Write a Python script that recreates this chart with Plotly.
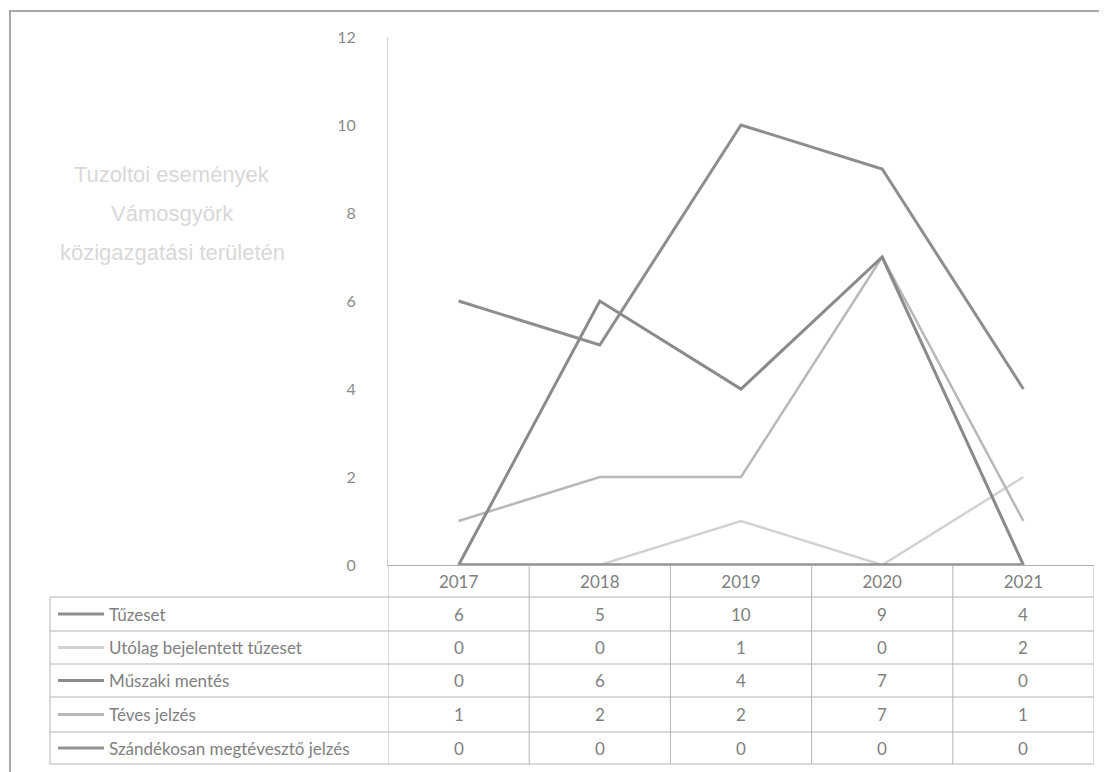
import plotly.graph_objects as go

years = ["2017", "2018", "2019", "2020", "2021"]
series_names = [
    "Tűzeset",
    "Utólag bejelentett tűzeset",
    "Műszaki mentés",
    "Téves jelzés",
    "Szándékosan megtévesztő jelzés",
]
tuzeset = [6, 5, 10, 9, 4]
utolag = [0, 0, 1, 0, 2]
muszaki = [0, 6, 4, 7, 0]
teves = [1, 2, 2, 7, 1]
szandekos = [0, 0, 0, 0, 0]
series_values = [tuzeset, utolag, muszaki, teves, szandekos]
y_ticks = [0, 2, 4, 6, 8, 10, 12]
title_lines = ["Tuzoltoi események", "Vámosgyörk", "közigazgatási területén"]

colors = ["#8e8e8e", "#d2d2d2", "#8a8a8a", "#b8b8b8", "#939393"]
widths = [3, 2.5, 3, 2.5, 3.5]

OFF = 8  # page body margin
W, H = 1107 - OFF, 772 - OFF
L, R, T, B = 388 - OFF, 1094 - OFF, 37 - OFF, 565 - OFF  # plot area in pixels


def px(xp):
    return (xp - OFF - L) / (R - L)


def py(yp):
    return (B - (yp - OFF)) / (B - T)


fig = go.Figure()
order = [1, 3, 0, 2, 4]
for i in order:
    fig.add_trace(go.Scatter(
        x=years, y=series_values[i], mode="lines", name=series_names[i],
        line=dict(color=colors[i], width=widths[i]), showlegend=False,
        cliponaxis=False,
    ))

shapes = []
grid = "#b4b4b4"
row_lines = [597, 631, 664, 697, 732, 764]
table_left = 50
for yl in row_lines:
    shapes.append(dict(type="line", xref="paper", yref="paper",
                       x0=px(table_left), x1=1, y0=py(yl), y1=py(yl),
                       line=dict(color=grid, width=1)))
for k in range(len(years) + 1):
    shapes.append(dict(type="line", xref="x", yref="paper",
                       x0=k - 0.5, x1=k - 0.5, y0=0, y1=py(row_lines[-1]),
                       line=dict(color=grid, width=1)))
shapes.append(dict(type="line", xref="paper", yref="paper",
                   x0=px(table_left), x1=px(table_left),
                   y0=py(row_lines[0]), y1=py(row_lines[-1]),
                   line=dict(color=grid, width=1)))
for r in range(len(series_names)):
    yc = (row_lines[r] + row_lines[r + 1]) / 2
    shapes.append(dict(type="line", xref="paper", yref="paper",
                       x0=px(58), x1=px(104), y0=py(yc), y1=py(yc),
                       line=dict(color=colors[r], width=3)))
# outer frame
shapes.append(dict(type="line", xref="paper", yref="paper",
                   x0=px(9), x1=px(1107), y0=py(11), y1=py(11),
                   line=dict(color="#a8a8a8", width=2)))
shapes.append(dict(type="line", xref="paper", yref="paper",
                   x0=px(10), x1=px(10), y0=py(11), y1=py(772),
                   line=dict(color="#a8a8a8", width=2)))

annotations = []
tfont = dict(family="Lato, Open Sans, sans-serif", size=17, color="#808080")
for r in range(len(series_names)):
    yc = (row_lines[r] + row_lines[r + 1]) / 2
    annotations.append(dict(xref="paper", yref="paper", x=px(107), y=py(yc),
                            text=series_names[r], showarrow=False,
                            xanchor="left", yanchor="middle", font=tfont))
    for c in range(len(years)):
        annotations.append(dict(xref="x", yref="paper", x=c, y=py(yc),
                                text=str(series_values[r][c]), showarrow=False,
                                xanchor="center", yanchor="middle", font=tfont))
for j, line in enumerate(title_lines):
    annotations.append(dict(xref="paper", yref="paper", x=px(172),
                            y=py(174 + 39 * j), text=line, showarrow=False,
                            xanchor="center", yanchor="middle",
                            font=dict(family="Liberation Sans, Arial, sans-serif",
                                      size=22, color="#d8d8d8")))

fig.update_layout(
    width=W, height=H,
    margin=dict(l=L, r=W - R, t=T, b=H - B, autoexpand=False),
    paper_bgcolor="white", plot_bgcolor="white",
    shapes=shapes, annotations=annotations,
    xaxis=dict(type="category", categoryorder="array", categoryarray=years,
               range=[-0.5, len(years) - 0.5], showgrid=False, zeroline=False,
               showline=True, linecolor="#b0b0b0", linewidth=1, ticks="",
               tickfont=tfont, ticklabelstandoff=2),
    yaxis=dict(range=[0, 12], tickvals=y_ticks, showgrid=False, zeroline=False,
               showline=True, linecolor="#d4d4d4", linewidth=1, ticks="",
               tickfont=dict(family="Lato, Open Sans, sans-serif", size=16,
                             color="#8a8a8a"),
               ticklabelstandoff=28),
)

fig.write_html("out.html")
